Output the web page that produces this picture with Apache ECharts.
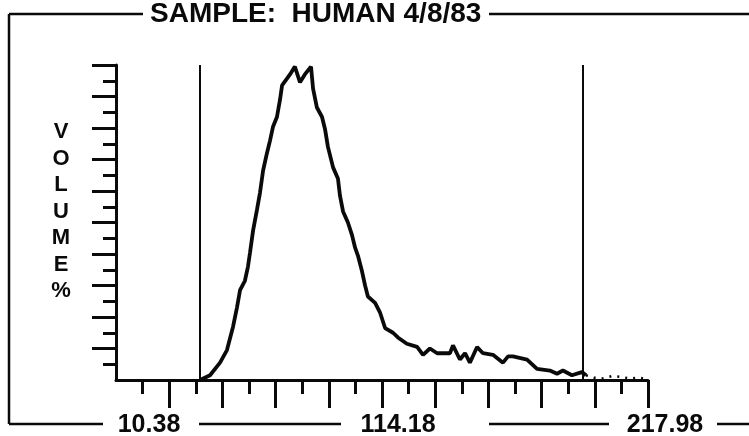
<!DOCTYPE html>
<html>
<head>
<meta charset="utf-8">
<script src="https://cdn.jsdelivr.net/npm/echarts@6/dist/echarts.min.js"></script>
<style>
html, body { margin: 0; padding: 0; background: #fff; }
#main { width: 749px; height: 436px; }
</style>
</head>
<body>
<div id="main"></div>
<script>
// size step of one analyser channel
var step = 10.38;
// distribution curve, size vs volume %
var sizes = [32.8, 36.7, 40.6, 43.3, 45.7, 47.2, 48.4, 50.3, 51.5, 52.3, 53.5, 55.0, 56.2, 57.4, 58.9, 60.1, 61.3, 62.8, 64.0, 64.8,
  67.9, 69.8, 71.8, 73.7, 76.1, 76.9, 78.4, 80.4, 81.6, 82.7, 84.7, 86.6, 87.4, 88.6, 90.5, 92.1, 93.3, 94.4, 96.0, 97.2,
  98.3, 101.1, 103.0, 105.0, 108.1, 110.0, 113.5, 117.5, 119.8, 122.5, 125.3, 130.3, 131.5, 134.2, 136.2, 138.1, 140.9, 143.2, 147.1, 151.0,
  153.0, 154.9, 160.4, 164.3, 169.3, 172.1, 174.4, 177.9, 181.8, 183.4];
var volumes = [0, 0.3, 1.1, 1.9, 3.4, 4.6, 5.7, 6.3, 7.2, 8.1, 9.5, 10.8, 11.9, 13.3, 14.4, 15.2, 16.1, 16.7, 17.8, 18.7,
  19.4, 19.9, 18.9, 19.4, 19.9, 18.5, 17.3, 16.7, 15.9, 14.8, 13.5, 12.8, 11.7, 10.7, 10.0, 9.2, 8.4, 7.9, 6.9, 6.0,
  5.3, 4.9, 4.3, 3.3, 3.0, 2.7, 2.3, 2.1, 1.6, 2.0, 1.7, 1.7, 2.2, 1.3, 1.7, 1.1, 2.1, 1.7, 1.6, 1.1,
  1.5, 1.5, 1.3, 0.7, 0.6, 0.4, 0.6, 0.3, 0.5, 0.3];
// dotted part past the right gate
var tailSizes = [183.4, 186.5, 190.0, 193.5, 197.0, 200.5, 204.0, 207.6];
var tailVolumes = [0.3, 0.15, 0.1, 0.25, 0.2, 0.1, 0.15, 0.05];
// gate cursors
var gateSizes = [32.8, 182.2];
var tickLabels = ['10.38', '114.18', '217.98'];
var yLetters = ['V', 'O', 'L', 'U', 'M', 'E', '%'];
var titleText = 'SAMPLE:  HUMAN 4/8/83';

var font = '"Liberation Sans", Arial, sans-serif';
var black = '#0a0a0a';

// long ticks on even channels, short ones on odd
var longX = [], shortX = [], longY = [], shortY = [];
for (var k = 1; k <= 20; k++) {
  if (k % 2) { shortX.push(+(k * step).toFixed(2)); shortY.push(k); }
  else { longX.push(+(k * step).toFixed(2)); longY.push(k); }
}

var myChart = echarts.init(document.getElementById('main'));

function axisX(ticks, len, showLine) {
  return {
    type: 'value', min: 0, max: +(20 * step).toFixed(2), position: 'bottom',
    axisLine: { show: showLine, lineStyle: { color: black, width: 3 } },
    axisTick: { show: true, customValues: ticks, length: len, lineStyle: { color: black, width: 3 } },
    axisLabel: { show: false }, splitLine: { show: false }
  };
}
function axisY(ticks, len, showLine) {
  return {
    type: 'value', min: 0, max: 20, position: 'left',
    axisLine: { show: showLine, lineStyle: { color: black, width: 3 } },
    axisTick: { show: true, customValues: ticks, length: len, lineStyle: { color: black, width: 3 } },
    axisLabel: { show: false }, splitLine: { show: false }
  };
}

var curve = sizes.map(function (s, i) { return [s, volumes[i]]; });
var tail = tailSizes.map(function (s, i) { return [s, tailVolumes[i]]; });

// frame pieces around the plot
var frame = [
  [9, 14, 9, 424],
  [9, 14, 143, 14], [489, 14, 749, 14],
  [9, 424, 103, 424], [199, 424, 341, 424], [489, 424, 609, 424], [717, 424, 749, 424]
];
var labelX = [149, 398, 665];

var graphic = frame.map(function (f) {
  return { type: 'line', shape: { x1: f[0], y1: f[1], x2: f[2], y2: f[3] }, style: { stroke: black, lineWidth: 2.5 }, silent: true };
});
graphic.push({
  type: 'text', left: 150, top: 0,
  style: { text: titleText, font: 'bold 28px ' + font, fill: black }
});
graphic.push({
  type: 'text', x: 61, y: 119,
  style: { text: yLetters.join('\n'), font: 'bold 22px ' + font, fill: black, align: 'center', lineHeight: 26.5 }
});
tickLabels.forEach(function (t, i) {
  graphic.push({
    type: 'text', x: labelX[i], y: 425,
    style: { text: t, font: 'bold 25px ' + font, fill: black, align: 'center', verticalAlign: 'middle' }
  });
});

var option = {
  animation: false,
  backgroundColor: '#fff',
  grid: { left: 116, right: 101, top: 65, bottom: 56, containLabel: false, outerBoundsMode: 'none' },
  xAxis: [axisX(longX, 28, true), axisX(shortX, 14, false)],
  yAxis: [axisY(longY, 24, true), axisY(shortY, 13, false)],
  series: [
    {
      type: 'line', data: curve, showSymbol: false, smooth: false,
      lineStyle: { color: black, width: 3.8 },
      markLine: {
        silent: true, symbol: ['none', 'none'], label: { show: false },
        lineStyle: { color: black, width: 2, type: 'solid' },
        data: gateSizes.map(function (g) { return [{ coord: [g, 0] }, { coord: [g, 20] }]; })
      }
    },
    {
      type: 'line', data: tail, showSymbol: false,
      lineStyle: { color: black, width: 2.5, type: [2, 6] }
    }
  ],
  graphic: graphic
};

myChart.setOption(option);
</script>
</body>
</html>
